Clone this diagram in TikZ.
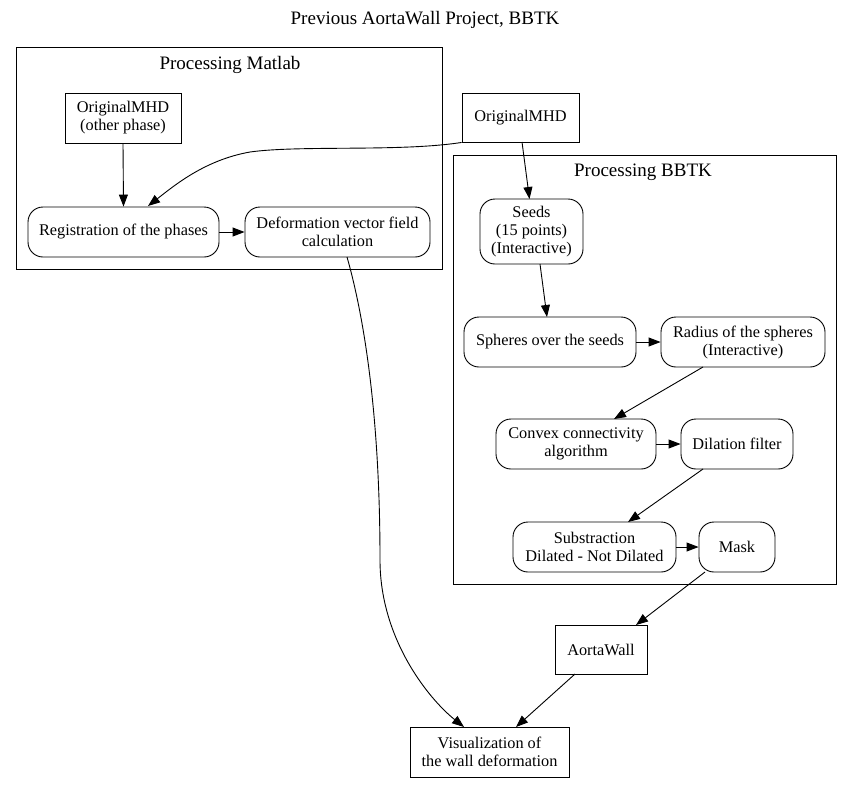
\documentclass[tikz,border=0pt]{standalone}
\usepackage{fontspec}
\setmainfont{Liberation Serif}
\usetikzlibrary{arrows.meta}
\begin{document}
\begin{tikzpicture}[x=1pt,y=-1pt,
  every node/.style={font=\fontsize{16.3}{18}\selectfont, align=center, inner sep=0pt},
  boxnode/.style={draw, line width=0.9pt, rectangle},
  roundnode/.style={draw, line width=0.9pt, rectangle, rounded corners=15pt},
  cluster/.style={draw, line width=0.9pt},
  clabel/.style={font=\fontsize{19}{21}\selectfont},
  conn/.style={line width=0.9pt, -{Triangle[length=12pt,width=9pt]}}
]
\useasboundingbox (0,0) rectangle (853,785);
\node[font=\fontsize{19}{21}\selectfont] (title) at (425,20) {Previous AortaWall Project, BBTK};

% clusters
\draw[cluster] (16,47) rectangle (442,269);
\node[clabel] (lm) at (230,65) {Processing Matlab};
\draw[cluster] (453,155) rectangle (836,584);
\node[clabel] (lb) at (643,172) {Processing BBTK};

% nodes
\node[boxnode, minimum width=116pt, minimum height=50pt] (omo) at (123,118) {OriginalMHD\\(other phase)};
\node[roundnode, minimum width=191pt, minimum height=50pt] (reg) at (123.5,232) {Registration of the phases};
\node[roundnode, minimum width=185pt, minimum height=50pt] (def) at (337.5,232) {Deformation vector field\\calculation};
\node[boxnode, minimum width=117pt, minimum height=49pt] (om) at (520.5,117.5) {OriginalMHD};
\node[roundnode, minimum width=103pt, minimum height=65pt] (seeds) at (531.5,231.5) {Seeds\\(15 points)\\(Interactive)};
\node[roundnode, minimum width=172pt, minimum height=50pt] (sph) at (550,342) {Spheres over the seeds};
\node[roundnode, minimum width=164pt, minimum height=50pt] (rad) at (743,342) {Radius of the spheres\\(Interactive)};
\node[roundnode, minimum width=160pt, minimum height=50pt] (conv) at (576,444) {Convex connectivity\\algorithm};
\node[roundnode, minimum width=112pt, minimum height=50pt] (dil) at (737,444) {Dilation filter};
\node[roundnode, minimum width=163pt, minimum height=50pt] (sub) at (594.5,547) {Substraction\\Dilated - Not Dilated};
\node[roundnode, minimum width=76pt, minimum height=50pt] (mask) at (737,547) {Mask};
\node[boxnode, minimum width=92pt, minimum height=49pt] (aw) at (601,649.5) {AortaWall};
\node[boxnode, minimum width=159pt, minimum height=50pt] (vis) at (489.5,752) {Visualization of\\the wall deformation};

% edges
\draw[conn] (omo.south) -- (reg.north);
\draw[conn] (om.south west) .. controls (400,152) and (300,145) .. (250,152) .. controls (205,160) and (175,185) .. (148,206);
\draw[conn] (reg) -- (def);
\draw[conn] (522,142) -- (529.5,199);
\draw[conn] (540,264) -- (547,317);
\draw[conn] (sph) -- (rad);
\draw[conn] (703,367) -- (614,419);
\draw[conn] (conv) -- (dil);
\draw[conn] (703,469) -- (628,522);
\draw[conn] (sub) -- (mask);
\draw[conn] (705,572) -- (636,625);
\draw[conn] (575,674) -- (516,727);
\draw[conn] (347,257) .. controls (365,320) and (380,420) .. (380,560) .. controls (380,640) and (430,700) .. (464,727);
\end{tikzpicture}
\end{document}
